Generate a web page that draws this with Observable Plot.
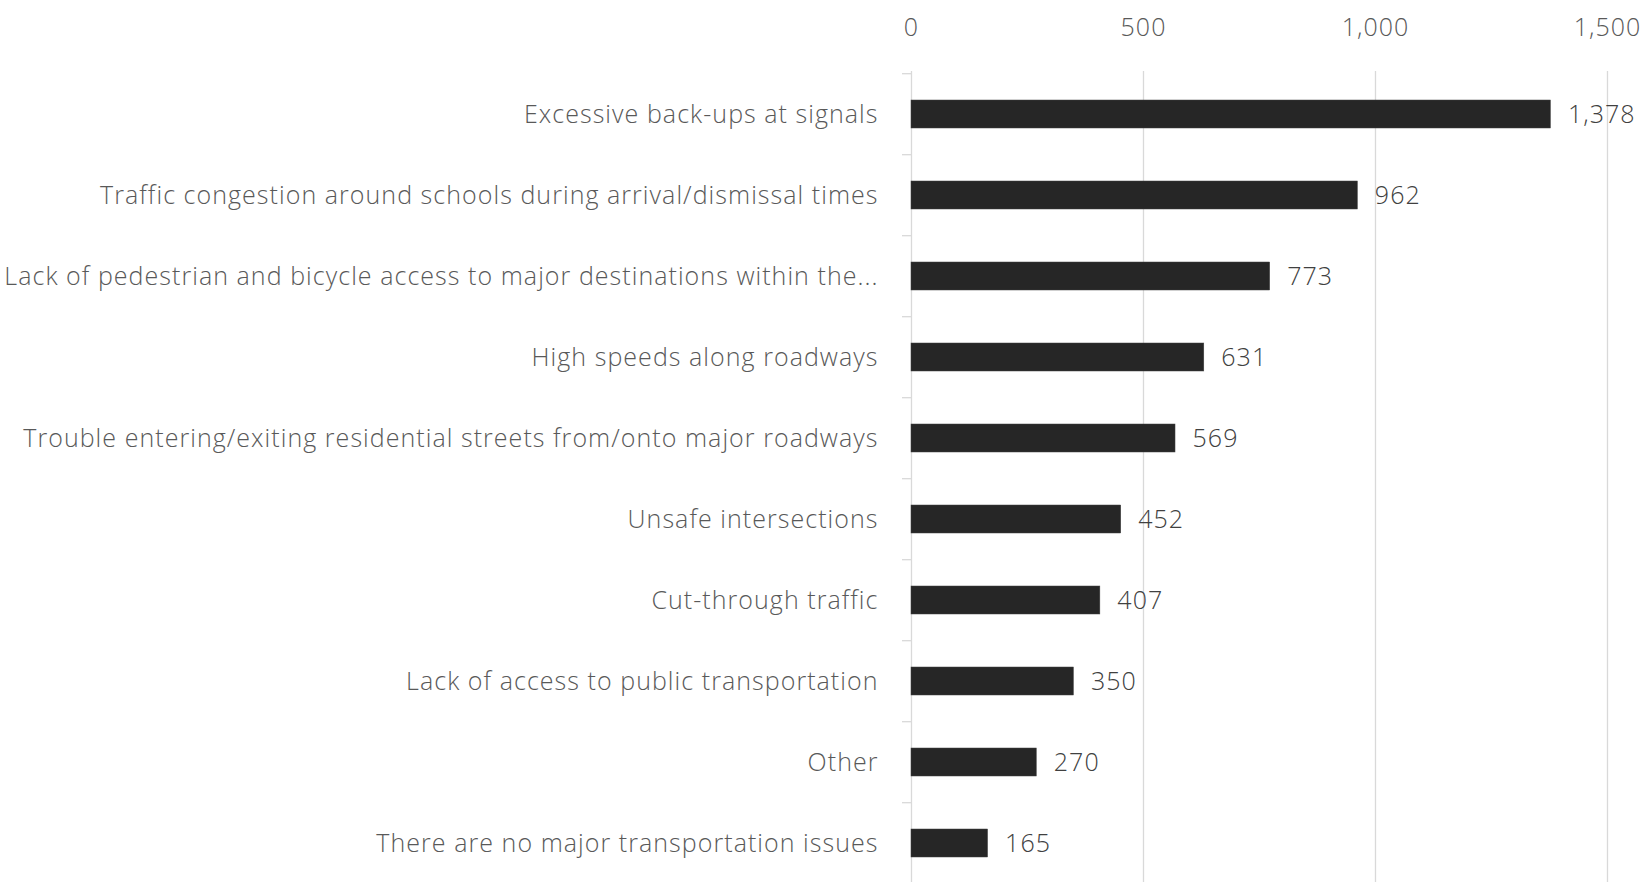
<!DOCTYPE html>
<html>
<head>
<meta charset="utf-8">
<script src="https://cdn.jsdelivr.net/npm/d3@7"></script>
<script src="https://cdn.jsdelivr.net/npm/@observablehq/plot@0.6"></script>
<style>
  html, body { margin: 0; padding: 0; background: #fff; overflow: hidden; }
  #chart { width: 1649px; height: 882px; overflow: hidden; }
</style>
</head>
<body>
<div id="chart"></div>
<script>
const categories = [
  "Excessive back-ups at signals",
  "Traffic congestion around schools during arrival/dismissal times",
  "Lack of pedestrian and bicycle access to major destinations within the...",
  "High speeds along roadways",
  "Trouble entering/exiting residential streets from/onto major roadways",
  "Unsafe intersections",
  "Cut-through traffic",
  "Lack of access to public transportation",
  "Other",
  "There are no major transportation issues"
];
const counts = [1378, 962, 773, 631, 569, 452, 407, 350, 270, 165];
const xTicks = [0, 500, 1000, 1500];

const data = categories.map((c, i) => ({category: c, count: counts[i]}));

const FONT = "'Open Sans', Lato, sans-serif";
const W = 1649, H = 882;
const yTop = 71, yBottom = 887;
const bw = (yBottom - yTop) / categories.length;

const chart = Plot.plot({
  width: W,
  height: H,
  marginLeft: 911,
  marginRight: 42,
  marginTop: yTop,
  marginBottom: 0,
  style: {fontFamily: FONT, fontWeight: 300, background: "#fff", letterSpacing: "1.05px"},
  x: {domain: [0, 1500], label: null},
  y: {domain: categories, range: [yTop, yBottom], paddingInner: 0.65, paddingOuter: 0.325, label: null},
  marks: [
    Plot.ruleX(xTicks, {stroke: "#d9d9d9", strokeWidth: 1.3}),
    Plot.axisX({anchor: "top", ticks: xTicks, tickSize: 0, tickPadding: 36, tickFormat: d3.format(","),
      fontSize: 25, color: "#595959", label: null}),
    Plot.axisY({tickSize: 9, tickFormat: () => "", dy: -bw / 2, stroke: "#d9d9d9", strokeWidth: 1.3, label: null}),
    Plot.axisY({tickSize: 0, tickPadding: 33, fontSize: 25, color: "#595959", label: null}),
    Plot.barX(data, {x: "count", y: "category", fill: "#262626", stroke: "#404040", strokeWidth: 0.5}),
    Plot.text(data, {x: "count", y: "category", text: d => d3.format(",")(d.count), textAnchor: "start",
      dx: 17, fontSize: 25, fill: "#404040"})
  ]
});
document.getElementById("chart").append(chart);
</script>
</body>
</html>
